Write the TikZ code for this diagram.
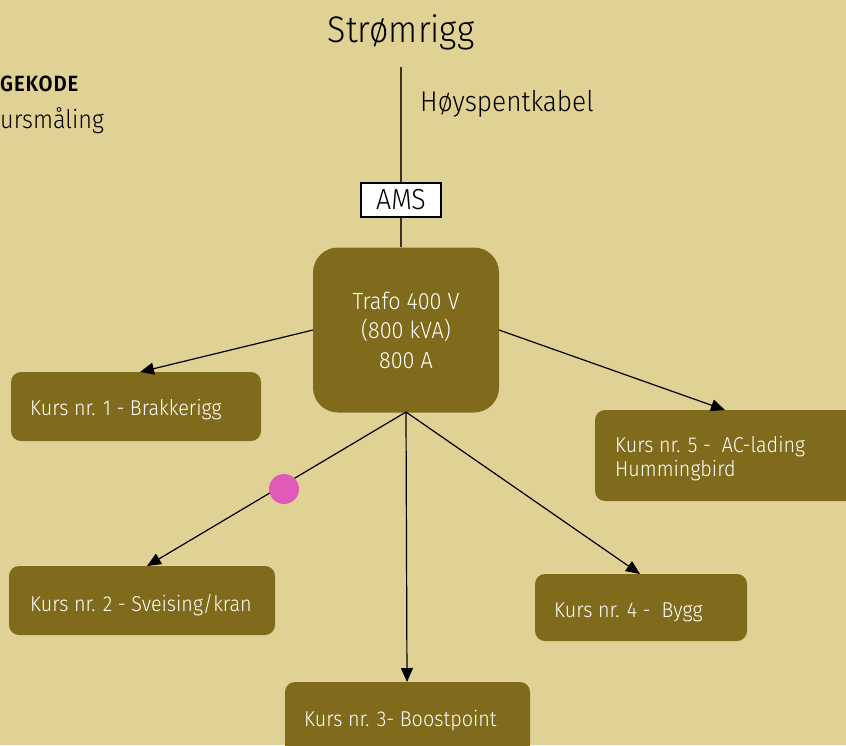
\documentclass[tikz,border=0pt]{standalone}
\usepackage{fontspec}
\setmainfont[FakeStretch=0.92]{Fira Sans Light}
\newfontfamily\boldcond[FakeStretch=0.92,LetterSpace=4]{Fira Sans SemiBold}
\usetikzlibrary{arrows.meta}
\definecolor{bg}{RGB}{224,210,149}
\definecolor{boxc}{RGB}{128,107,28}
\definecolor{dotc}{RGB}{224,90,184}
\definecolor{linec}{RGB}{60,50,30}
\tikzset{
  kurs/.style={fill=boxc, rounded corners=10pt, draw=none},
  ktext/.style={text=white, font=\fontsize{21.5}{24}\selectfont, anchor=west, inner sep=0pt},
  arr/.style={-{Triangle[length=14pt,width=12pt]}, line width=1.2pt, black},
  feed/.style={line width=1.6pt, linec},
}
\begin{document}
\begin{tikzpicture}[x=1pt,y=-1pt]
\useasboundingbox (0,0) rectangle (846,745);
\fill[bg] (0,0) rectangle (846,745);
% title and labels
\node[font=\fontsize{37}{40}\selectfont, inner sep=0pt] (title) at (401,32) {Strømrigg};
\node[font=\fontsize{28.5}{30}\selectfont, anchor=west, inner sep=0pt] (hsk) at (420,104) {Høyspentkabel};
\node[font=\boldcond\fontsize{22}{24}\selectfont, anchor=west, inner sep=0pt] (legh) at (0,84) {GEKODE};
\node[font=\fontsize{25.5}{28}\selectfont, anchor=west, inner sep=0pt] (legk) at (0,121) {ursmåling};
% feed line
\coordinate (top) at (401,67);
\node[draw=black, fill=white, line width=1.4pt, minimum width=80pt, minimum height=34pt, inner sep=0pt, font=\fontsize{29}{30}\selectfont] (ams) at (401,200) {AMS};
% trafo
\node[fill=boxc, rounded corners=25pt, minimum width=186pt, minimum height=165pt, inner sep=0pt, text=white, align=center, font=\fontsize{23.5}{29.5}\selectfont] (trafo) at (406,330) {Trafo 400 V\\(800 kVA)\\800 A};
\draw[feed] (top) -- (ams.north);
\draw[feed] (ams.south) -- (ams.south |- trafo.north);
% kurs boxes
\fill[kurs] (11,372) rectangle (261,441);
\coordinate (k1) at (140,372);
\node[ktext] (k1t) at (30,410) {Kurs nr. 1 - Brakkerigg};
\fill[kurs] (595,410) rectangle (870,501);
\coordinate (k5) at (725,410);
\node[ktext, align=left] (k5t) at (615,459) {Kurs nr. 5 -\ \ AC-lading\\Hummingbird};
\fill[kurs] (9,566) rectangle (275,635);
\coordinate (k2) at (147,566);
\node[ktext] (k2t) at (30,605) {Kurs nr. 2 - Sveising/kran};
\fill[kurs] (285,682) rectangle (530,770);
\coordinate (k3) at (407,682);
\node[ktext] (k3t) at (304,721) {Kurs nr. 3- Boostpoint};
\fill[kurs] (535,574) rectangle (747,641);
\coordinate (k4) at (640,574);
\node[ktext] (k4t) at (554,612) {Kurs nr. 4 -\ \ Bygg};
% connectors
\coordinate (tw) at (313,330);
\coordinate (te) at (499,330);
\coordinate (tb) at (406,412);
\draw[arr] (tw) -- (k1);
\draw[arr] (te) -- (k5);
\draw[arr] (tb) -- (k2);
\draw[arr] (tb) -- (k3);
\draw[arr] (tb) -- (k4);
\node[circle, fill=dotc, minimum size=30pt, inner sep=0pt] (dot) at (284,489) {};
\end{tikzpicture}
\end{document}
